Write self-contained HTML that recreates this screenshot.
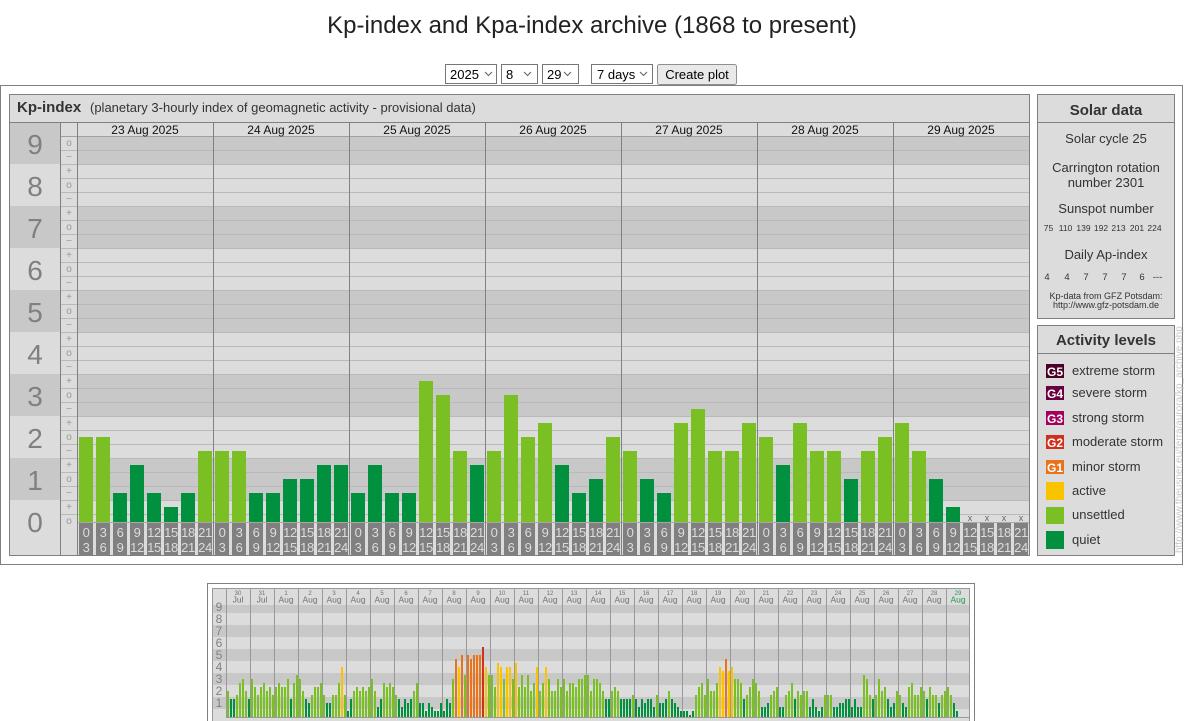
<!DOCTYPE html>
<html><head><meta charset="utf-8">
<style>
html,body{margin:0;padding:0;background:#fff;}
svg{display:block;font-family:"Liberation Sans",Arial,sans-serif;}
.D{fill:#00903e}.L{fill:#7abf24}.Y{fill:#fac300}.O{fill:#e8731a}.R{fill:#d2301e}
.tb{fill:#808080}
.tt{font-size:13px;fill:#dcdcdc;text-anchor:middle;letter-spacing:-0.4px}
.sl{font-size:10px;fill:#999;text-anchor:middle}
.big{font-size:28px;fill:#808080;text-anchor:middle}
.dl{font-size:12px;fill:#111;text-anchor:middle}
.st{font-size:13px;fill:#333;text-anchor:middle}
.sn{font-size:8.5px;fill:#333;text-anchor:middle}
.an{font-size:9.5px;fill:#333;text-anchor:middle}
.al{font-size:13px;fill:#333}
.gl{font-size:12px;fill:#fff;font-weight:bold;text-anchor:middle}
.md{font-size:6px;fill:#707070;text-anchor:middle}
.mm{font-size:8.5px;fill:#707070;text-anchor:middle}
.ml{font-size:12px;fill:#808080;text-anchor:middle}
.xm{font-size:9px;fill:#666;text-anchor:middle}
</style></head><body>
<svg width="1184" height="721" viewBox="0 0 1184 721" xmlns="http://www.w3.org/2000/svg">
<!-- Title -->
<text x="592" y="33" font-size="24" fill="#222" text-anchor="middle">Kp-index and Kpa-index archive (1868 to present)</text>

<!-- Controls -->
<g font-size="13" fill="#000">
<rect x="445.5" y="64.5" width="51" height="19" fill="#fff" stroke="#767676"/>
<text x="450" y="79">2025</text>
<polyline points="485,72 488.5,75.5 492,72" fill="none" stroke="#666" stroke-width="1.1"/>
<rect x="501.5" y="64.5" width="36" height="19" fill="#fff" stroke="#767676"/>
<text x="506" y="79">8</text>
<polyline points="524,72 527.5,75.5 531,72" fill="none" stroke="#666" stroke-width="1.1"/>
<rect x="542.5" y="64.5" width="36" height="19" fill="#fff" stroke="#767676"/>
<text x="547" y="79">29</text>
<polyline points="564,72 567.5,75.5 571,72" fill="none" stroke="#666" stroke-width="1.1"/>
<rect x="591.5" y="64.5" width="61" height="19" fill="#fff" stroke="#767676"/>
<text x="597" y="79">7 days</text>
<polyline points="640,72 643.5,75.5 647,72" fill="none" stroke="#666" stroke-width="1.1"/>
<rect x="657.5" y="64.5" width="79" height="20" rx="2" fill="#e9e9e9" stroke="#8f8f8f"/>
<text x="697" y="79" text-anchor="middle">Create plot</text>
</g>

<!-- Outer frame -->
<rect x="0.5" y="85.5" width="1182" height="479" fill="#fff" stroke="#808080"/>

<!-- Kp panel -->
<rect x="9.5" y="94.5" width="1020" height="461" fill="#dcdcdc" stroke="#808080"/>
<text x="17" y="112" font-size="15" font-weight="bold" fill="#333">Kp-index</text>
<text x="90" y="112" font-size="13" fill="#333">(planetary 3-hourly index of geomagnetic activity - provisional data)</text>
<line x1="9" y1="122.5" x2="1030" y2="122.5" stroke="#808080"/>

<!-- left column bands -->
<g fill="#c8c8c8">
<rect x="10" y="123" width="50" height="41"/>
<rect x="10" y="206" width="50" height="42"/>
<rect x="10" y="290" width="50" height="42"/>
<rect x="10" y="374" width="50" height="42"/>
<rect x="10" y="458" width="50" height="42"/>
<!-- plot bands -->
<rect x="77" y="136" width="952" height="28"/>
<rect x="77" y="206" width="952" height="42"/>
<rect x="77" y="290" width="952" height="42"/>
<rect x="77" y="374" width="952" height="42"/>
<rect x="77" y="458" width="952" height="42"/>
</g>

<!-- grid lines -->
<path d="M60 150.5H1029M60 164.5H1029M60 178.5H1029M60 192.5H1029M60 206.5H1029M60 220.5H1029M60 234.5H1029M60 248.5H1029M60 262.5H1029M60 276.5H1029M60 290.5H1029M60 304.5H1029M60 318.5H1029M60 332.5H1029M60 346.5H1029M60 360.5H1029M60 374.5H1029M60 388.5H1029M60 402.5H1029M60 416.5H1029M60 430.5H1029M60 444.5H1029M60 458.5H1029M60 472.5H1029M60 486.5H1029M60 500.5H1029M60 514.5H1029" stroke="#b9b9b9" stroke-width="1" fill="none"/>
<line x1="60" y1="136.5" x2="1029" y2="136.5" stroke="#a0a0a0"/>
<line x1="77" y1="522.5" x2="1029" y2="522.5" stroke="#a8a8a8"/>

<!-- column separators -->
<line x1="60.5" y1="122" x2="60.5" y2="555" stroke="#808080"/>
<g stroke="#808080">
<line x1="77.5" y1="122" x2="77.5" y2="555"/>
<line x1="213.5" y1="122" x2="213.5" y2="555"/>
<line x1="349.5" y1="122" x2="349.5" y2="555"/>
<line x1="485.5" y1="122" x2="485.5" y2="555"/>
<line x1="621.5" y1="122" x2="621.5" y2="555"/>
<line x1="757.5" y1="122" x2="757.5" y2="555"/>
<line x1="893.5" y1="122" x2="893.5" y2="555"/>
</g>

<!-- big numbers -->
<text class="big" x="35" y="154">9</text>
<text class="big" x="35" y="196">8</text>
<text class="big" x="35" y="238">7</text>
<text class="big" x="35" y="280">6</text>
<text class="big" x="35" y="322">5</text>
<text class="big" x="35" y="364">4</text>
<text class="big" x="35" y="406">3</text>
<text class="big" x="35" y="448">2</text>
<text class="big" x="35" y="490">1</text>
<text class="big" x="35" y="532">0</text>

<!-- small labels -->
<g class="sl">
<text x="69" y="146">o</text><text x="69" y="160">−</text>
<text x="69" y="174">+</text><text x="69" y="188">o</text><text x="69" y="202">−</text>
<text x="69" y="216">+</text><text x="69" y="230">o</text><text x="69" y="244">−</text>
<text x="69" y="258">+</text><text x="69" y="272">o</text><text x="69" y="286">−</text>
<text x="69" y="300">+</text><text x="69" y="314">o</text><text x="69" y="328">−</text>
<text x="69" y="342">+</text><text x="69" y="356">o</text><text x="69" y="370">−</text>
<text x="69" y="384">+</text><text x="69" y="398">o</text><text x="69" y="412">−</text>
<text x="69" y="426">+</text><text x="69" y="440">o</text><text x="69" y="454">−</text>
<text x="69" y="468">+</text><text x="69" y="482">o</text><text x="69" y="496">−</text>
<text x="69" y="510">+</text><text x="69" y="524">o</text>
</g>

<!-- date labels -->
<text class="dl" x="145" y="134">23 Aug 2025</text>
<text class="dl" x="281" y="134">24 Aug 2025</text>
<text class="dl" x="417" y="134">25 Aug 2025</text>
<text class="dl" x="553" y="134">26 Aug 2025</text>
<text class="dl" x="689" y="134">27 Aug 2025</text>
<text class="dl" x="825" y="134">28 Aug 2025</text>
<text class="dl" x="961" y="134">29 Aug 2025</text>

<!-- main bars -->
<g>
<rect class="L" x="79" y="437" width="14" height="85"/>
<rect class="L" x="96" y="437" width="14" height="85"/>
<rect class="D" x="113" y="493" width="14" height="29"/>
<rect class="D" x="130" y="465" width="14" height="57"/>
<rect class="D" x="147" y="493" width="14" height="29"/>
<rect class="D" x="164" y="507" width="14" height="15"/>
<rect class="D" x="181" y="493" width="14" height="29"/>
<rect class="L" x="198" y="451" width="14" height="71"/>

<rect class="L" x="215" y="451" width="14" height="71"/>
<rect class="L" x="232" y="451" width="14" height="71"/>
<rect class="D" x="249" y="493" width="14" height="29"/>
<rect class="D" x="266" y="493" width="14" height="29"/>
<rect class="D" x="283" y="479" width="14" height="43"/>
<rect class="D" x="300" y="479" width="14" height="43"/>
<rect class="D" x="317" y="465" width="14" height="57"/>
<rect class="D" x="334" y="465" width="14" height="57"/>

<rect class="D" x="351" y="493" width="14" height="29"/>
<rect class="D" x="368" y="465" width="14" height="57"/>
<rect class="D" x="385" y="493" width="14" height="29"/>
<rect class="D" x="402" y="493" width="14" height="29"/>
<rect class="L" x="419" y="381" width="14" height="141"/>
<rect class="L" x="436" y="395" width="14" height="127"/>
<rect class="L" x="453" y="451" width="14" height="71"/>
<rect class="D" x="470" y="465" width="14" height="57"/>

<rect class="L" x="487" y="451" width="14" height="71"/>
<rect class="L" x="504" y="395" width="14" height="127"/>
<rect class="L" x="521" y="437" width="14" height="85"/>
<rect class="L" x="538" y="423" width="14" height="99"/>
<rect class="D" x="555" y="465" width="14" height="57"/>
<rect class="D" x="572" y="493" width="14" height="29"/>
<rect class="D" x="589" y="479" width="14" height="43"/>
<rect class="L" x="606" y="437" width="14" height="85"/>

<rect class="L" x="623" y="451" width="14" height="71"/>
<rect class="D" x="640" y="479" width="14" height="43"/>
<rect class="D" x="657" y="493" width="14" height="29"/>
<rect class="L" x="674" y="423" width="14" height="99"/>
<rect class="L" x="691" y="409" width="14" height="113"/>
<rect class="L" x="708" y="451" width="14" height="71"/>
<rect class="L" x="725" y="451" width="14" height="71"/>
<rect class="L" x="742" y="423" width="14" height="99"/>

<rect class="L" x="759" y="437" width="14" height="85"/>
<rect class="D" x="776" y="465" width="14" height="57"/>
<rect class="L" x="793" y="423" width="14" height="99"/>
<rect class="L" x="810" y="451" width="14" height="71"/>
<rect class="L" x="827" y="451" width="14" height="71"/>
<rect class="D" x="844" y="479" width="14" height="43"/>
<rect class="L" x="861" y="451" width="14" height="71"/>
<rect class="L" x="878" y="437" width="14" height="85"/>

<rect class="L" x="895" y="423" width="14" height="99"/>
<rect class="L" x="912" y="451" width="14" height="71"/>
<rect class="D" x="929" y="479" width="14" height="43"/>
<rect class="D" x="946" y="507" width="14" height="15"/>
</g>
<text class="xm" x="970" y="521">x</text>
<text class="xm" x="987" y="521">x</text>
<text class="xm" x="1004" y="521">x</text>
<text class="xm" x="1021" y="521">x</text>

<!-- time label boxes -->
<g class="tb">
<rect x="79" y="523" width="14" height="32"/><rect x="96" y="523" width="14" height="32"/><rect x="113" y="523" width="14" height="32"/><rect x="130" y="523" width="14" height="32"/><rect x="147" y="523" width="14" height="32"/><rect x="164" y="523" width="14" height="32"/><rect x="181" y="523" width="14" height="32"/><rect x="198" y="523" width="14" height="32"/>
<rect x="215" y="523" width="14" height="32"/><rect x="232" y="523" width="14" height="32"/><rect x="249" y="523" width="14" height="32"/><rect x="266" y="523" width="14" height="32"/><rect x="283" y="523" width="14" height="32"/><rect x="300" y="523" width="14" height="32"/><rect x="317" y="523" width="14" height="32"/><rect x="334" y="523" width="14" height="32"/>
<rect x="351" y="523" width="14" height="32"/><rect x="368" y="523" width="14" height="32"/><rect x="385" y="523" width="14" height="32"/><rect x="402" y="523" width="14" height="32"/><rect x="419" y="523" width="14" height="32"/><rect x="436" y="523" width="14" height="32"/><rect x="453" y="523" width="14" height="32"/><rect x="470" y="523" width="14" height="32"/>
<rect x="487" y="523" width="14" height="32"/><rect x="504" y="523" width="14" height="32"/><rect x="521" y="523" width="14" height="32"/><rect x="538" y="523" width="14" height="32"/><rect x="555" y="523" width="14" height="32"/><rect x="572" y="523" width="14" height="32"/><rect x="589" y="523" width="14" height="32"/><rect x="606" y="523" width="14" height="32"/>
<rect x="623" y="523" width="14" height="32"/><rect x="640" y="523" width="14" height="32"/><rect x="657" y="523" width="14" height="32"/><rect x="674" y="523" width="14" height="32"/><rect x="691" y="523" width="14" height="32"/><rect x="708" y="523" width="14" height="32"/><rect x="725" y="523" width="14" height="32"/><rect x="742" y="523" width="14" height="32"/>
<rect x="759" y="523" width="14" height="32"/><rect x="776" y="523" width="14" height="32"/><rect x="793" y="523" width="14" height="32"/><rect x="810" y="523" width="14" height="32"/><rect x="827" y="523" width="14" height="32"/><rect x="844" y="523" width="14" height="32"/><rect x="861" y="523" width="14" height="32"/><rect x="878" y="523" width="14" height="32"/>
<rect x="895" y="523" width="14" height="32"/><rect x="912" y="523" width="14" height="32"/><rect x="929" y="523" width="14" height="32"/><rect x="946" y="523" width="14" height="32"/><rect x="963" y="523" width="14" height="32"/><rect x="980" y="523" width="14" height="32"/><rect x="997" y="523" width="14" height="32"/><rect x="1014" y="523" width="14" height="32"/>
</g>
<g class="tt">
<text x="86" y="537">0<tspan x="86" y="552">3</tspan></text><text x="103" y="537">3<tspan x="103" y="552">6</tspan></text><text x="120" y="537">6<tspan x="120" y="552">9</tspan></text><text x="137" y="537">9<tspan x="137" y="552">12</tspan></text><text x="154" y="537">12<tspan x="154" y="552">15</tspan></text><text x="171" y="537">15<tspan x="171" y="552">18</tspan></text><text x="188" y="537">18<tspan x="188" y="552">21</tspan></text><text x="205" y="537">21<tspan x="205" y="552">24</tspan></text>
<text x="222" y="537">0<tspan x="222" y="552">3</tspan></text><text x="239" y="537">3<tspan x="239" y="552">6</tspan></text><text x="256" y="537">6<tspan x="256" y="552">9</tspan></text><text x="273" y="537">9<tspan x="273" y="552">12</tspan></text><text x="290" y="537">12<tspan x="290" y="552">15</tspan></text><text x="307" y="537">15<tspan x="307" y="552">18</tspan></text><text x="324" y="537">18<tspan x="324" y="552">21</tspan></text><text x="341" y="537">21<tspan x="341" y="552">24</tspan></text>
<text x="358" y="537">0<tspan x="358" y="552">3</tspan></text><text x="375" y="537">3<tspan x="375" y="552">6</tspan></text><text x="392" y="537">6<tspan x="392" y="552">9</tspan></text><text x="409" y="537">9<tspan x="409" y="552">12</tspan></text><text x="426" y="537">12<tspan x="426" y="552">15</tspan></text><text x="443" y="537">15<tspan x="443" y="552">18</tspan></text><text x="460" y="537">18<tspan x="460" y="552">21</tspan></text><text x="477" y="537">21<tspan x="477" y="552">24</tspan></text>
<text x="494" y="537">0<tspan x="494" y="552">3</tspan></text><text x="511" y="537">3<tspan x="511" y="552">6</tspan></text><text x="528" y="537">6<tspan x="528" y="552">9</tspan></text><text x="545" y="537">9<tspan x="545" y="552">12</tspan></text><text x="562" y="537">12<tspan x="562" y="552">15</tspan></text><text x="579" y="537">15<tspan x="579" y="552">18</tspan></text><text x="596" y="537">18<tspan x="596" y="552">21</tspan></text><text x="613" y="537">21<tspan x="613" y="552">24</tspan></text>
<text x="630" y="537">0<tspan x="630" y="552">3</tspan></text><text x="647" y="537">3<tspan x="647" y="552">6</tspan></text><text x="664" y="537">6<tspan x="664" y="552">9</tspan></text><text x="681" y="537">9<tspan x="681" y="552">12</tspan></text><text x="698" y="537">12<tspan x="698" y="552">15</tspan></text><text x="715" y="537">15<tspan x="715" y="552">18</tspan></text><text x="732" y="537">18<tspan x="732" y="552">21</tspan></text><text x="749" y="537">21<tspan x="749" y="552">24</tspan></text>
<text x="766" y="537">0<tspan x="766" y="552">3</tspan></text><text x="783" y="537">3<tspan x="783" y="552">6</tspan></text><text x="800" y="537">6<tspan x="800" y="552">9</tspan></text><text x="817" y="537">9<tspan x="817" y="552">12</tspan></text><text x="834" y="537">12<tspan x="834" y="552">15</tspan></text><text x="851" y="537">15<tspan x="851" y="552">18</tspan></text><text x="868" y="537">18<tspan x="868" y="552">21</tspan></text><text x="885" y="537">21<tspan x="885" y="552">24</tspan></text>
<text x="902" y="537">0<tspan x="902" y="552">3</tspan></text><text x="919" y="537">3<tspan x="919" y="552">6</tspan></text><text x="936" y="537">6<tspan x="936" y="552">9</tspan></text><text x="953" y="537">9<tspan x="953" y="552">12</tspan></text><text x="970" y="537">12<tspan x="970" y="552">15</tspan></text><text x="987" y="537">15<tspan x="987" y="552">18</tspan></text><text x="1004" y="537">18<tspan x="1004" y="552">21</tspan></text><text x="1021" y="537">21<tspan x="1021" y="552">24</tspan></text>
</g>

<!-- Solar data panel -->
<rect x="1037.5" y="94.5" width="137" height="224" fill="#dcdcdc" stroke="#808080"/>
<line x1="1037" y1="122.5" x2="1175" y2="122.5" stroke="#808080"/>
<text x="1106" y="115" font-size="15" font-weight="bold" fill="#333" text-anchor="middle">Solar data</text>
<text class="st" x="1106" y="143">Solar cycle 25</text>
<text class="st" x="1106" y="172">Carrington rotation</text>
<text class="st" x="1106" y="187">number 2301</text>
<text class="st" x="1106" y="213">Sunspot number</text>
<g class="sn">
<text x="1048.5" y="231">75</text><text x="1065.5" y="231">110</text><text x="1083.5" y="231">139</text><text x="1101" y="231">192</text><text x="1118.5" y="231">213</text><text x="1137" y="231">201</text><text x="1154.5" y="231">224</text>
</g>
<text class="st" x="1106" y="259">Daily Ap-index</text>
<g class="an">
<text x="1047" y="280">4</text><text x="1067" y="280">4</text><text x="1086" y="280">7</text><text x="1105" y="280">7</text><text x="1124" y="280">7</text><text x="1142" y="280">6</text><text x="1157.5" y="280">---</text>
</g>
<text x="1106" y="299" font-size="9" fill="#333" text-anchor="middle">Kp-data from GFZ Potsdam:</text>
<text x="1106" y="308" font-size="9" fill="#333" text-anchor="middle">http://www.gfz-potsdam.de</text>

<!-- Activity panel -->
<rect x="1037.5" y="325.5" width="137" height="230" fill="#dcdcdc" stroke="#808080"/>
<line x1="1037" y1="353.5" x2="1175" y2="353.5" stroke="#808080"/>
<text x="1106" y="345" font-size="15" font-weight="bold" fill="#333" text-anchor="middle">Activity levels</text>
<rect x="1046" y="364" width="18" height="14" fill="#4d0026"/><text class="gl" x="1055" y="376">G5</text><text class="al" x="1072" y="375">extreme storm</text>
<rect x="1046" y="386" width="18" height="14" fill="#6b0040"/><text class="gl" x="1055" y="398">G4</text><text class="al" x="1072" y="397">severe storm</text>
<rect x="1046" y="411" width="18" height="14" fill="#a5005a"/><text class="gl" x="1055" y="423">G3</text><text class="al" x="1072" y="422">strong storm</text>
<rect x="1046" y="435" width="18" height="14" fill="#d2301e"/><text class="gl" x="1055" y="447">G2</text><text class="al" x="1072" y="446">moderate storm</text>
<rect x="1046" y="460" width="18" height="14" fill="#e8731a"/><text class="gl" x="1055" y="472">G1</text><text class="al" x="1072" y="471">minor storm</text>
<rect x="1046" y="482" width="18" height="18" fill="#fac300"/><text class="al" x="1072" y="495">active</text>
<rect x="1046" y="507" width="18" height="17" fill="#7abf24"/><text class="al" x="1072" y="519">unsettled</text>
<rect x="1046" y="531" width="18" height="18" fill="#00903e"/><text class="al" x="1072" y="544">quiet</text>

<text transform="translate(1182,553) rotate(-90)" font-size="10" fill="#c8c8c8">http://www.theusner.eu/terra/aurora/kp_archive.php</text>

<!-- Mini chart -->
<rect x="207.5" y="583.5" width="767" height="160" fill="#fff" stroke="#808080"/>
<rect x="212.5" y="588.5" width="757" height="160" fill="#dcdcdc" stroke="#999"/>
<g fill="#c8c8c8">
<rect x="213" y="605" width="756" height="8"/>
<rect x="213" y="625" width="756" height="12"/>
<rect x="213" y="649" width="756" height="12"/>
<rect x="213" y="673" width="756" height="12"/>
<rect x="213" y="697" width="756" height="12"/>
</g>
<g class="ml">
<text x="219" y="611">9</text><text x="219" y="623">8</text><text x="219" y="635">7</text><text x="219" y="647">6</text><text x="219" y="659">5</text><text x="219" y="671">4</text><text x="219" y="683">3</text><text x="219" y="695">2</text><text x="219" y="707">1</text>
</g>
<path d="M226.5 589V717M250.5 589V717M274.5 589V717M298.5 589V717M322.5 589V717M346.5 589V717M370.5 589V717M394.5 589V717M418.5 589V717M442.5 589V717M466.5 589V717M490.5 589V717M514.5 589V717M538.5 589V717M562.5 589V717M586.5 589V717M610.5 589V717M634.5 589V717M658.5 589V717M682.5 589V717M706.5 589V717M730.5 589V717M754.5 589V717M778.5 589V717M802.5 589V717M826.5 589V717M850.5 589V717M874.5 589V717M898.5 589V717M922.5 589V717M946.5 589V717M226 717.5H970" stroke="#999" fill="none"/>

<!-- mini header -->
<g class="md">
<text x="238" y="595">30</text><text x="262" y="595">31</text><text x="286" y="595">1</text><text x="310" y="595">2</text><text x="334" y="595">3</text><text x="358" y="595">4</text><text x="382" y="595">5</text><text x="406" y="595">6</text><text x="430" y="595">7</text><text x="454" y="595">8</text><text x="478" y="595">9</text><text x="502" y="595">10</text><text x="526" y="595">11</text><text x="550" y="595">12</text><text x="574" y="595">13</text><text x="598" y="595">14</text><text x="622" y="595">15</text><text x="646" y="595">16</text><text x="670" y="595">17</text><text x="694" y="595">18</text><text x="718" y="595">19</text><text x="742" y="595">20</text><text x="766" y="595">21</text><text x="790" y="595">22</text><text x="814" y="595">23</text><text x="838" y="595">24</text><text x="862" y="595">25</text><text x="886" y="595">26</text><text x="910" y="595">27</text><text x="934" y="595">28</text><text x="958" y="595" fill="#1e9a50">29</text>
</g>
<g class="mm">
<text x="238" y="602.5">Jul</text><text x="262" y="602.5">Jul</text><text x="286" y="602.5">Aug</text><text x="310" y="602.5">Aug</text><text x="334" y="602.5">Aug</text><text x="358" y="602.5">Aug</text><text x="382" y="602.5">Aug</text><text x="406" y="602.5">Aug</text><text x="430" y="602.5">Aug</text><text x="454" y="602.5">Aug</text><text x="478" y="602.5">Aug</text><text x="502" y="602.5">Aug</text><text x="526" y="602.5">Aug</text><text x="550" y="602.5">Aug</text><text x="574" y="602.5">Aug</text><text x="598" y="602.5">Aug</text><text x="622" y="602.5">Aug</text><text x="646" y="602.5">Aug</text><text x="670" y="602.5">Aug</text><text x="694" y="602.5">Aug</text><text x="718" y="602.5">Aug</text><text x="742" y="602.5">Aug</text><text x="766" y="602.5">Aug</text><text x="790" y="602.5">Aug</text><text x="814" y="602.5">Aug</text><text x="838" y="602.5">Aug</text><text x="862" y="602.5">Aug</text><text x="886" y="602.5">Aug</text><text x="910" y="602.5">Aug</text><text x="934" y="602.5">Aug</text><text x="958" y="602.5" fill="#1e9a50">Aug</text>
</g>

<!-- mini bars -->
<g transform="translate(227,0)"><rect class="L" x="0" y="691" width="2" height="26"/><rect class="D" x="3" y="699" width="2" height="18"/><rect class="D" x="6" y="699" width="2" height="18"/><rect class="L" x="9" y="695" width="2" height="22"/><rect class="L" x="12" y="683" width="2" height="34"/><rect class="L" x="15" y="679" width="2" height="38"/><rect class="L" x="18" y="691" width="2" height="26"/><rect class="D" x="21" y="699" width="2" height="18"/></g>
<g transform="translate(251,0)"><rect class="L" x="0" y="679" width="2" height="38"/><rect class="L" x="3" y="687" width="2" height="30"/><rect class="L" x="6" y="695" width="2" height="22"/><rect class="L" x="9" y="687" width="2" height="30"/><rect class="L" x="12" y="683" width="2" height="34"/><rect class="L" x="15" y="691" width="2" height="26"/><rect class="L" x="18" y="687" width="2" height="30"/><rect class="L" x="21" y="695" width="2" height="22"/></g>
<g transform="translate(275,0)"><rect class="L" x="0" y="687" width="2" height="30"/><rect class="L" x="3" y="683" width="2" height="34"/><rect class="L" x="6" y="687" width="2" height="30"/><rect class="L" x="9" y="687" width="2" height="30"/><rect class="L" x="12" y="679" width="2" height="38"/><rect class="D" x="15" y="699" width="2" height="18"/><rect class="L" x="18" y="683" width="2" height="34"/><rect class="L" x="21" y="675" width="2" height="42"/></g>
<g transform="translate(299,0)"><rect class="L" x="0" y="679" width="2" height="38"/><rect class="L" x="3" y="691" width="2" height="26"/><rect class="D" x="6" y="699" width="2" height="18"/><rect class="D" x="9" y="703" width="2" height="14"/><rect class="L" x="12" y="695" width="2" height="22"/><rect class="L" x="15" y="687" width="2" height="30"/><rect class="L" x="18" y="687" width="2" height="30"/><rect class="L" x="21" y="683" width="2" height="34"/></g>
<g transform="translate(323,0)"><rect class="L" x="0" y="695" width="2" height="22"/><rect class="D" x="3" y="703" width="2" height="14"/><rect class="D" x="6" y="703" width="2" height="14"/><rect class="L" x="9" y="695" width="2" height="22"/><rect class="L" x="12" y="695" width="2" height="22"/><rect class="L" x="15" y="683" width="2" height="34"/><rect class="Y" x="18" y="667" width="2" height="50"/><rect class="L" x="21" y="695" width="2" height="22"/></g>
<g transform="translate(347,0)"><rect class="D" x="0" y="711" width="2" height="6"/><rect class="D" x="3" y="699" width="2" height="18"/><rect class="L" x="6" y="691" width="2" height="26"/><rect class="L" x="9" y="687" width="2" height="30"/><rect class="L" x="12" y="691" width="2" height="26"/><rect class="L" x="15" y="687" width="2" height="30"/><rect class="L" x="18" y="691" width="2" height="26"/><rect class="L" x="21" y="687" width="2" height="30"/></g>
<g transform="translate(371,0)"><rect class="L" x="0" y="679" width="2" height="38"/><rect class="L" x="3" y="691" width="2" height="26"/><rect class="D" x="6" y="707" width="2" height="10"/><rect class="D" x="9" y="699" width="2" height="18"/><rect class="L" x="12" y="683" width="2" height="34"/><rect class="L" x="15" y="687" width="2" height="30"/><rect class="L" x="18" y="683" width="2" height="34"/><rect class="L" x="21" y="687" width="2" height="30"/></g>
<g transform="translate(395,0)"><rect class="L" x="0" y="695" width="2" height="22"/><rect class="D" x="3" y="699" width="2" height="18"/><rect class="D" x="6" y="707" width="2" height="10"/><rect class="D" x="9" y="699" width="2" height="18"/><rect class="D" x="12" y="703" width="2" height="14"/><rect class="D" x="15" y="699" width="2" height="18"/><rect class="L" x="18" y="691" width="2" height="26"/><rect class="L" x="21" y="683" width="2" height="34"/></g>
<g transform="translate(419,0)"><rect class="D" x="0" y="703" width="2" height="14"/><rect class="D" x="3" y="703" width="2" height="14"/><rect class="D" x="6" y="711" width="2" height="6"/><rect class="D" x="9" y="703" width="2" height="14"/><rect class="D" x="12" y="707" width="2" height="10"/><rect class="D" x="15" y="711" width="2" height="6"/><rect class="D" x="18" y="711" width="2" height="6"/><rect class="D" x="21" y="703" width="2" height="14"/></g>
<g transform="translate(443,0)"><rect class="D" x="0" y="711" width="2" height="6"/><rect class="D" x="3" y="699" width="2" height="18"/><rect class="D" x="6" y="703" width="2" height="14"/><rect class="L" x="9" y="679" width="2" height="38"/><rect class="O" x="12" y="659" width="2" height="58"/><rect class="Y" x="15" y="667" width="2" height="50"/><rect class="O" x="18" y="655" width="2" height="62"/><rect class="L" x="21" y="675" width="2" height="42"/></g>
<g transform="translate(467,0)"><rect class="O" x="0" y="655" width="2" height="62"/><rect class="O" x="3" y="659" width="2" height="58"/><rect class="O" x="6" y="655" width="2" height="62"/><rect class="O" x="9" y="655" width="2" height="62"/><rect class="O" x="12" y="655" width="2" height="62"/><rect class="R" x="15" y="647" width="2" height="70"/><rect class="Y" x="18" y="667" width="2" height="50"/><rect class="L" x="21" y="675" width="2" height="42"/></g>
<g transform="translate(491,0)"><rect class="L" x="0" y="675" width="2" height="42"/><rect class="L" x="3" y="687" width="2" height="30"/><rect class="Y" x="6" y="663" width="2" height="54"/><rect class="Y" x="9" y="667" width="2" height="50"/><rect class="L" x="12" y="679" width="2" height="38"/><rect class="Y" x="15" y="667" width="2" height="50"/><rect class="Y" x="18" y="667" width="2" height="50"/><rect class="L" x="21" y="679" width="2" height="38"/></g>
<g transform="translate(515,0)"><rect class="Y" x="0" y="663" width="2" height="54"/><rect class="L" x="3" y="687" width="2" height="30"/><rect class="L" x="6" y="675" width="2" height="42"/><rect class="L" x="9" y="687" width="2" height="30"/><rect class="L" x="12" y="675" width="2" height="42"/><rect class="L" x="15" y="691" width="2" height="26"/><rect class="L" x="18" y="683" width="2" height="34"/><rect class="Y" x="21" y="667" width="2" height="50"/></g>
<g transform="translate(539,0)"><rect class="L" x="0" y="691" width="2" height="26"/><rect class="L" x="3" y="683" width="2" height="34"/><rect class="Y" x="6" y="667" width="2" height="50"/><rect class="L" x="9" y="679" width="2" height="38"/><rect class="L" x="12" y="691" width="2" height="26"/><rect class="L" x="15" y="691" width="2" height="26"/><rect class="L" x="18" y="679" width="2" height="38"/><rect class="L" x="21" y="687" width="2" height="30"/></g>
<g transform="translate(563,0)"><rect class="L" x="0" y="679" width="2" height="38"/><rect class="L" x="3" y="691" width="2" height="26"/><rect class="L" x="6" y="683" width="2" height="34"/><rect class="L" x="9" y="683" width="2" height="34"/><rect class="L" x="12" y="687" width="2" height="30"/><rect class="L" x="15" y="679" width="2" height="38"/><rect class="L" x="18" y="679" width="2" height="38"/><rect class="L" x="21" y="675" width="2" height="42"/></g>
<g transform="translate(587,0)"><rect class="L" x="0" y="675" width="2" height="42"/><rect class="L" x="3" y="691" width="2" height="26"/><rect class="L" x="6" y="679" width="2" height="38"/><rect class="L" x="9" y="679" width="2" height="38"/><rect class="L" x="12" y="683" width="2" height="34"/><rect class="L" x="15" y="691" width="2" height="26"/><rect class="D" x="18" y="699" width="2" height="18"/><rect class="D" x="21" y="699" width="2" height="18"/></g>
<g transform="translate(611,0)"><rect class="L" x="0" y="691" width="2" height="26"/><rect class="L" x="3" y="687" width="2" height="30"/><rect class="L" x="6" y="691" width="2" height="26"/><rect class="D" x="9" y="699" width="2" height="18"/><rect class="D" x="12" y="699" width="2" height="18"/><rect class="D" x="15" y="699" width="2" height="18"/><rect class="D" x="18" y="699" width="2" height="18"/><rect class="L" x="21" y="695" width="2" height="22"/></g>
<g transform="translate(635,0)"><rect class="D" x="0" y="699" width="2" height="18"/><rect class="D" x="3" y="707" width="2" height="10"/><rect class="D" x="6" y="699" width="2" height="18"/><rect class="D" x="9" y="703" width="2" height="14"/><rect class="D" x="12" y="699" width="2" height="18"/><rect class="D" x="15" y="699" width="2" height="18"/><rect class="D" x="18" y="707" width="2" height="10"/><rect class="L" x="21" y="695" width="2" height="22"/></g>
<g transform="translate(659,0)"><rect class="D" x="0" y="703" width="2" height="14"/><rect class="D" x="3" y="703" width="2" height="14"/><rect class="D" x="6" y="699" width="2" height="18"/><rect class="L" x="9" y="691" width="2" height="26"/><rect class="D" x="12" y="699" width="2" height="18"/><rect class="D" x="15" y="703" width="2" height="14"/><rect class="D" x="18" y="707" width="2" height="10"/><rect class="D" x="21" y="711" width="2" height="6"/></g>
<g transform="translate(683,0)"><rect class="D" x="0" y="711" width="2" height="6"/><rect class="D" x="3" y="711" width="2" height="6"/><rect class="D" x="6" y="715" width="2" height="2"/><rect class="D" x="9" y="711" width="2" height="6"/><rect class="L" x="12" y="695" width="2" height="22"/><rect class="L" x="15" y="687" width="2" height="30"/><rect class="L" x="18" y="683" width="2" height="34"/><rect class="L" x="21" y="695" width="2" height="22"/></g>
<g transform="translate(707,0)"><rect class="L" x="0" y="679" width="2" height="38"/><rect class="L" x="3" y="691" width="2" height="26"/><rect class="L" x="6" y="691" width="2" height="26"/><rect class="L" x="9" y="683" width="2" height="34"/><rect class="Y" x="12" y="667" width="2" height="50"/><rect class="Y" x="15" y="671" width="2" height="46"/><rect class="O" x="18" y="659" width="2" height="58"/><rect class="Y" x="21" y="671" width="2" height="46"/></g>
<g transform="translate(731,0)"><rect class="Y" x="0" y="667" width="2" height="50"/><rect class="L" x="3" y="679" width="2" height="38"/><rect class="L" x="6" y="679" width="2" height="38"/><rect class="L" x="9" y="683" width="2" height="34"/><rect class="D" x="12" y="699" width="2" height="18"/><rect class="L" x="15" y="695" width="2" height="22"/><rect class="L" x="18" y="687" width="2" height="30"/><rect class="L" x="21" y="679" width="2" height="38"/></g>
<g transform="translate(755,0)"><rect class="L" x="0" y="683" width="2" height="34"/><rect class="L" x="3" y="691" width="2" height="26"/><rect class="D" x="6" y="707" width="2" height="10"/><rect class="D" x="9" y="707" width="2" height="10"/><rect class="D" x="12" y="703" width="2" height="14"/><rect class="L" x="15" y="695" width="2" height="22"/><rect class="L" x="18" y="691" width="2" height="26"/><rect class="L" x="21" y="687" width="2" height="30"/></g>
<g transform="translate(779,0)"><rect class="D" x="0" y="707" width="2" height="10"/><rect class="D" x="3" y="707" width="2" height="10"/><rect class="L" x="6" y="695" width="2" height="22"/><rect class="L" x="9" y="691" width="2" height="26"/><rect class="L" x="12" y="683" width="2" height="34"/><rect class="D" x="15" y="699" width="2" height="18"/><rect class="L" x="18" y="691" width="2" height="26"/><rect class="L" x="21" y="695" width="2" height="22"/></g>
<g transform="translate(803,0)"><rect class="L" x="0" y="691" width="2" height="26"/><rect class="L" x="3" y="691" width="2" height="26"/><rect class="D" x="6" y="707" width="2" height="10"/><rect class="D" x="9" y="699" width="2" height="18"/><rect class="D" x="12" y="707" width="2" height="10"/><rect class="D" x="15" y="711" width="2" height="6"/><rect class="D" x="18" y="707" width="2" height="10"/><rect class="L" x="21" y="695" width="2" height="22"/></g>
<g transform="translate(827,0)"><rect class="L" x="0" y="695" width="2" height="22"/><rect class="L" x="3" y="695" width="2" height="22"/><rect class="D" x="6" y="707" width="2" height="10"/><rect class="D" x="9" y="707" width="2" height="10"/><rect class="D" x="12" y="703" width="2" height="14"/><rect class="D" x="15" y="703" width="2" height="14"/><rect class="D" x="18" y="699" width="2" height="18"/><rect class="D" x="21" y="699" width="2" height="18"/></g>
<g transform="translate(851,0)"><rect class="D" x="0" y="707" width="2" height="10"/><rect class="D" x="3" y="699" width="2" height="18"/><rect class="D" x="6" y="707" width="2" height="10"/><rect class="D" x="9" y="707" width="2" height="10"/><rect class="L" x="12" y="675" width="2" height="42"/><rect class="L" x="15" y="679" width="2" height="38"/><rect class="L" x="18" y="695" width="2" height="22"/><rect class="D" x="21" y="699" width="2" height="18"/></g>
<g transform="translate(875,0)"><rect class="L" x="0" y="695" width="2" height="22"/><rect class="L" x="3" y="679" width="2" height="38"/><rect class="L" x="6" y="691" width="2" height="26"/><rect class="L" x="9" y="687" width="2" height="30"/><rect class="D" x="12" y="699" width="2" height="18"/><rect class="D" x="15" y="707" width="2" height="10"/><rect class="D" x="18" y="703" width="2" height="14"/><rect class="L" x="21" y="691" width="2" height="26"/></g>
<g transform="translate(899,0)"><rect class="L" x="0" y="695" width="2" height="22"/><rect class="D" x="3" y="703" width="2" height="14"/><rect class="D" x="6" y="707" width="2" height="10"/><rect class="L" x="9" y="687" width="2" height="30"/><rect class="L" x="12" y="683" width="2" height="34"/><rect class="L" x="15" y="695" width="2" height="22"/><rect class="L" x="18" y="695" width="2" height="22"/><rect class="L" x="21" y="687" width="2" height="30"/></g>
<g transform="translate(923,0)"><rect class="L" x="0" y="691" width="2" height="26"/><rect class="D" x="3" y="699" width="2" height="18"/><rect class="L" x="6" y="687" width="2" height="30"/><rect class="L" x="9" y="695" width="2" height="22"/><rect class="L" x="12" y="695" width="2" height="22"/><rect class="D" x="15" y="703" width="2" height="14"/><rect class="L" x="18" y="695" width="2" height="22"/><rect class="L" x="21" y="691" width="2" height="26"/></g>
<g transform="translate(947,0)"><rect class="L" x="0" y="687" width="2" height="30"/><rect class="L" x="3" y="695" width="2" height="22"/><rect class="D" x="6" y="703" width="2" height="14"/><rect class="D" x="9" y="711" width="2" height="6"/></g>
</svg>
</body></html>
